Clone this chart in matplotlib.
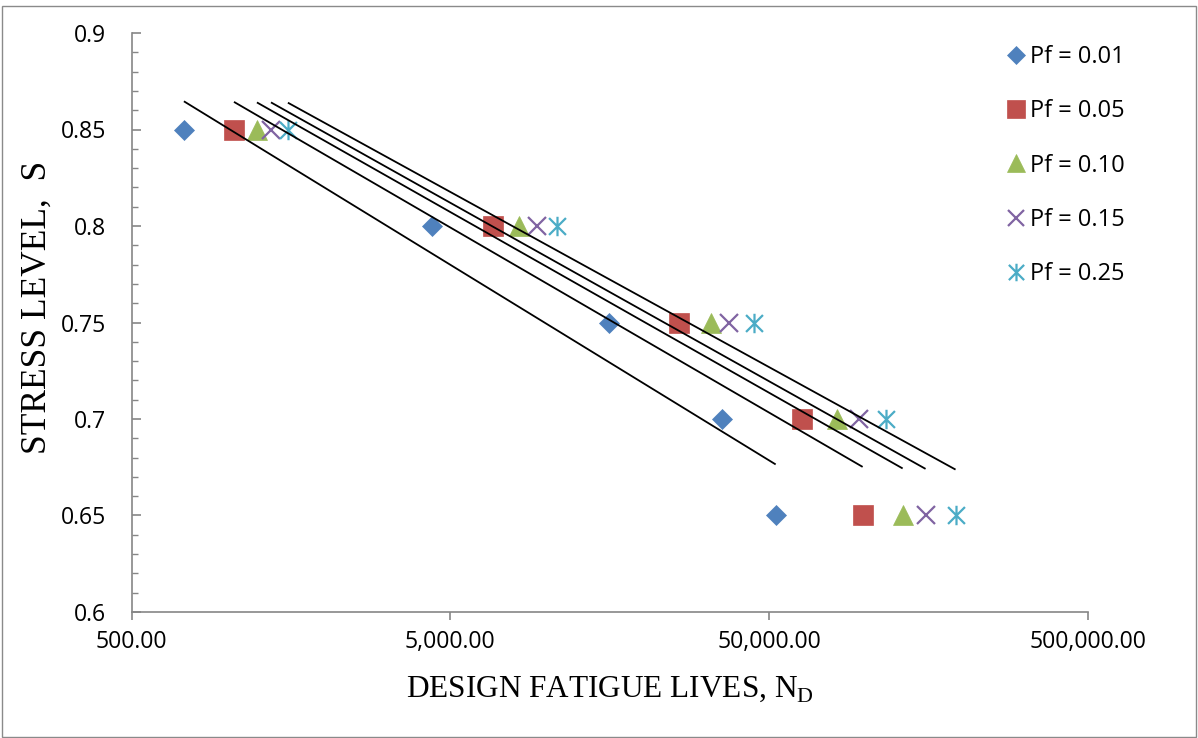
import numpy as np
import matplotlib
matplotlib.use("Agg")
import matplotlib.pyplot as plt
from matplotlib.path import Path
from matplotlib.patches import Rectangle
from matplotlib.ticker import FixedLocator, FuncFormatter, MultipleLocator, NullLocator

plt.rcParams['font.family'] = ['Open Sans', 'DejaVu Sans']
plt.rcParams['mathtext.fontset'] = 'custom'
plt.rcParams['mathtext.rm'] = 'Liberation Serif'

# ---- data ----
stress = [0.85, 0.80, 0.75, 0.70, 0.65]
labels = ["Pf = 0.01", "Pf = 0.05", "Pf = 0.10", "Pf = 0.15", "Pf = 0.25"]
lives_001 = [730, 4375, 15700, 35500, 52400]
lives_005 = [1048, 6800, 26000, 63200, 98200]
lives_010 = [1237, 8200, 32800, 81400, 131100]
lives_015 = [1369, 9340, 37300, 95400, 154700]
lives_025 = [1547, 10790, 44700, 115900, 192100]
xticks = [500, 5000, 50000, 500000]
yticks = [0.6, 0.65, 0.7, 0.75, 0.8, 0.85, 0.9]

series = [lives_001, lives_005, lives_010, lives_015, lives_025]
colors = ["#4F81BD", "#C0504D", "#9BBB59", "#8064A2", "#4BACC6"]

star = Path([(-1, -1), (1, 1), (-1, 1), (1, -1), (0, -1.15), (0, 1.15)],
            [Path.MOVETO, Path.LINETO, Path.MOVETO, Path.LINETO, Path.MOVETO, Path.LINETO])
styles = [
    dict(marker='D', ms=10.3, mfc=colors[0], mec=colors[0], mew=0.5),
    dict(marker='s', ms=13.8, mfc=colors[1], mec=colors[1], mew=0.5),
    dict(marker='^', ms=14, mfc=colors[2], mec=colors[2], mew=0.5),
    dict(marker='x', ms=13, mfc='none', mec=colors[3], mew=1.6),
    dict(marker=star, ms=14, mfc='none', mec=colors[4], mew=1.6),
]

fig = plt.figure(figsize=(11.98, 7.38), dpi=100)
ax = fig.add_axes([131.5 / 1198, 1 - 612 / 738, (1088 - 131.5) / 1198, (612 - 33) / 738])

handles = []
for lives, st, lab in zip(series, styles, labels):
    N = np.array(lives, dtype=float)
    S = np.array(stress)
    h, = ax.plot(N, S, linestyle='none', label=lab, zorder=3, **st)
    handles.append(h)

# logarithmic trend lines (fit of S on log N) drawn over data range
for lives in series:
    N = np.array(lives, dtype=float)
    S = np.array(stress)
    k, b = np.polyfit(np.log10(N), S, 1)
    xx = np.array([N.min(), N.max()])
    ax.plot(xx, k * np.log10(xx) + b, color='black', lw=1.3, zorder=4,
            solid_capstyle='butt')

ax.set_xscale('log')
ax.set_xlim(500, 500000)
ax.set_ylim(0.6, 0.9)
ax.xaxis.set_major_locator(FixedLocator(xticks))
ax.xaxis.set_minor_locator(NullLocator())
ax.xaxis.set_major_formatter(FuncFormatter(lambda v, p: f"{v:,.2f}"))
ax.yaxis.set_major_locator(FixedLocator(yticks))
ax.yaxis.set_minor_locator(MultipleLocator(0.01))
ax.yaxis.set_major_formatter(FuncFormatter(lambda v, p: f"{v:g}"))

for side in ['top', 'right']:
    ax.spines[side].set_visible(False)
for side in ['left', 'bottom']:
    ax.spines[side].set_color('#868686')
    ax.spines[side].set_linewidth(1.2)

ax.tick_params(axis='y', which='major', direction='in', length=6.5, width=1.2,
               color='#868686', labelsize=16.6, pad=18.5)
ax.tick_params(axis='y', which='minor', direction='in', length=4.3, width=1.0,
               color='#868686')
ax.tick_params(axis='x', which='major', direction='out', length=5.8, width=1.2,
               color='#868686', labelsize=16.6, pad=7.5)

ax.set_xlabel(r"DESIGN FATIGUE LIVES, N$_\mathregular{D}$", family='Liberation Serif',
              fontsize=22.5)
ax.xaxis.set_label_coords(0.5, -0.108)
ax.set_ylabel("STRESS LEVEL,  S", family='Liberation Serif', fontsize=25.5)
ax.yaxis.set_label_coords(-0.081, 0.526)

leg = fig.legend(handles=handles, loc='upper left',
                 bbox_to_anchor=(1007 / 1198, 1 - 45 / 738),
                 frameon=False, fontsize=17, handlelength=0.75, handletextpad=0.22,
                 labelspacing=1.285, borderpad=0, borderaxespad=0, markerscale=0.9)

fig.add_artist(Rectangle((1.5 / 1198, 1.5 / 738), 1194 / 1198, 731 / 738,
                         transform=fig.transFigure, fill=False,
                         edgecolor='#8a8a8a', lw=1.0))

fig.savefig("out.png", dpi=100)
